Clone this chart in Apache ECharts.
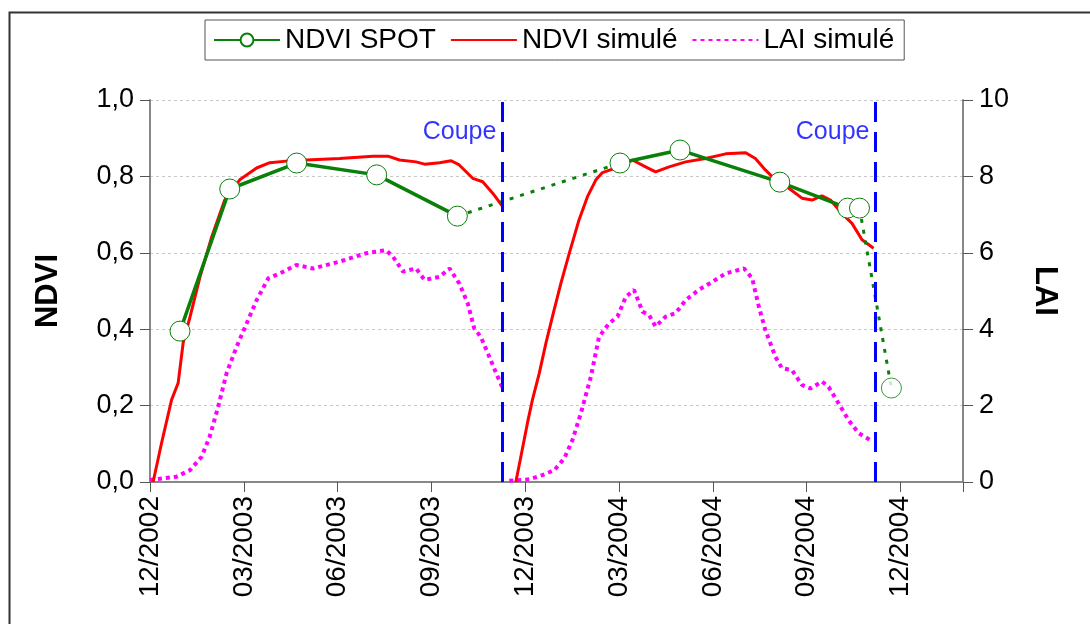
<!DOCTYPE html>
<html>
<head>
<meta charset="utf-8">
<script src="https://cdn.jsdelivr.net/npm/echarts@6/dist/echarts.min.js"></script>
<style>
  html, body { margin: 0; padding: 0; background: #fff; }
  #chart { width: 1090px; height: 624px; }
</style>
</head>
<body>
<div id="chart"></div>
<script>
// x = months since 01/12/2002
var tickLabels = ['12/2002', '03/2003', '06/2003', '09/2003', '12/2003', '03/2004', '06/2004', '09/2004', '12/2004'];

// NDVI SPOT observations [month, ndvi]
var spot1 = [[0.96, 0.395], [2.55, 0.767], [4.69, 0.835], [7.25, 0.804], [9.83, 0.696]];
var spot2 = [[15.03, 0.835], [16.95, 0.869], [20.14, 0.785], [22.31, 0.717], [22.69, 0.717]];
var spotLate = [[23.71, 0.246]];

// NDVI simulé
var ndvi1 = [[0.1, 0], [0.16, 0.005], [0.37, 0.102], [0.69, 0.215], [0.9, 0.259], [1.06, 0.364], [1.28, 0.432],
  [1.6, 0.537], [1.97, 0.641], [2.39, 0.738], [2.87, 0.791], [3.41, 0.822], [3.83, 0.836], [4.36, 0.84],
  [5.0, 0.843], [6.06, 0.847], [7.13, 0.853], [7.61, 0.853], [7.98, 0.843], [8.51, 0.838], [8.78, 0.832],
  [9.26, 0.836], [9.63, 0.841], [9.89, 0.83], [10.32, 0.795], [10.64, 0.786], [10.96, 0.756], [11.28, 0.721]];
var ndvi2 = [[11.7, 0], [11.86, 0.066], [12.07, 0.154], [12.23, 0.215], [12.45, 0.285], [12.66, 0.363],
  [12.87, 0.433], [13.14, 0.52], [13.41, 0.599], [13.72, 0.686], [13.99, 0.747], [14.26, 0.791],
  [14.47, 0.81], [14.79, 0.819], [15.11, 0.83], [15.43, 0.843], [15.85, 0.825], [16.17, 0.812],
  [16.6, 0.825], [17.13, 0.838], [17.77, 0.847], [18.41, 0.859], [19.05, 0.862], [19.36, 0.847],
  [19.68, 0.817], [20.0, 0.791], [20.43, 0.769], [20.85, 0.743], [21.17, 0.738], [21.49, 0.749],
  [21.76, 0.738], [22.13, 0.703], [22.45, 0.677], [22.77, 0.634], [23.14, 0.612]];

// LAI simulé
var lai1 = [[0, 0.05], [0.85, 0.14], [1.28, 0.31], [1.65, 0.66], [1.91, 1.19], [2.18, 1.97], [2.45, 2.85],
  [2.77, 3.54], [3.09, 4.15], [3.41, 4.76], [3.78, 5.33], [4.15, 5.46], [4.68, 5.68], [5.21, 5.59],
  [6.06, 5.77], [6.92, 5.99], [7.55, 6.07], [7.77, 5.9], [8.09, 5.51], [8.51, 5.59], [8.78, 5.29],
  [9.26, 5.37], [9.58, 5.59], [9.89, 5.2], [10.16, 4.68], [10.37, 4.02], [10.58, 3.8], [10.85, 3.28],
  [11.07, 2.85], [11.28, 2.45]];
var lai2 = [[11.49, 0.03], [12.13, 0.07], [12.55, 0.18], [12.93, 0.31], [13.25, 0.62], [13.51, 1.1],
  [13.78, 1.8], [14.1, 2.76], [14.36, 3.8], [14.68, 4.15], [14.95, 4.33], [15.22, 4.85], [15.48, 5.03],
  [15.75, 4.46], [15.96, 4.37], [16.17, 4.07], [16.49, 4.33], [16.81, 4.42], [17.13, 4.76], [17.55, 5.03],
  [17.98, 5.24], [18.41, 5.46], [19.0, 5.59], [19.26, 5.33], [19.47, 4.59], [19.68, 3.98], [20.0, 3.28],
  [20.21, 2.98], [20.53, 2.93], [20.85, 2.54], [21.12, 2.45], [21.49, 2.63], [21.7, 2.49], [22.02, 2.06],
  [22.34, 1.62], [22.66, 1.28], [23.03, 1.1]];

// cuts (Coupe)
var cutMonths = [11.27, 23.2];
var cutLabelNdvi = 0.916;

var FONT = '"Liberation Sans", Arial, sans-serif';
var GREEN = '#0a800a', RED = '#ff0000', PINK = '#ff00ff', BLUE = '#0000ff';

var myChart = echarts.init(document.getElementById('chart'), null, { renderer: 'canvas' });

var spotSymbol = {
  symbol: 'circle', symbolSize: 20,
  itemStyle: { color: '#fff', borderColor: GREEN, borderWidth: 1 }
};

var option = {
  animation: false,
  backgroundColor: '#fff',
  graphic: [{
    type: 'rect', left: 7, top: 10,
    shape: { width: 1100, height: 700 },
    style: { fill: 'none', stroke: '#333', lineWidth: 2 },
    z: -1
  }],
  legend: {
    data: [
      { name: 'NDVI SPOT' },
      { name: 'NDVI simulé', itemStyle: { opacity: 0 } },
      { name: 'LAI simulé', itemStyle: { opacity: 0 } }
    ],
    top: 20, left: 205,
    itemWidth: 66, itemHeight: 16, itemGap: 14,
    borderColor: '#555', borderWidth: 1, padding: [6, 10, 6, 8],
    textStyle: { fontFamily: FONT, fontSize: 28, color: '#000' }
  },
  grid: { left: 150, right: 127, top: 100, bottom: 142 },
  xAxis: {
    type: 'value', min: 0, max: 26, interval: 3,
    axisLine: { lineStyle: { color: '#888', width: 2 } },
    axisTick: { length: 10, lineStyle: { color: '#555' } },
    splitLine: { show: false },
    axisLabel: {
      rotate: 90, margin: 14, fontFamily: FONT, fontSize: 28, color: '#000',
      formatter: function (v) { return v % 3 === 0 ? (tickLabels[v / 3] || '') : ''; }
    }
  },
  yAxis: [{
    type: 'value', min: 0, max: 1, interval: 0.2, position: 'left',
    name: 'NDVI', nameLocation: 'middle', nameRotate: 90, nameGap: 86,
    nameTextStyle: { fontFamily: FONT, fontSize: 31, fontWeight: 'bold', color: '#000' },
    axisLine: { show: true, lineStyle: { color: '#888', width: 2 } },
    axisTick: { show: true, length: 10, lineStyle: { color: '#555' } },
    splitLine: { show: true, lineStyle: { color: '#c8c8c8', type: [3, 3] } },
    axisLabel: {
      margin: 16, fontFamily: FONT, fontSize: 27, color: '#000',
      formatter: function (v) { return v.toFixed(1).replace('.', ','); }
    }
  }, {
    type: 'value', min: 0, max: 10, interval: 2, position: 'right',
    name: 'LAI', nameLocation: 'middle', nameRotate: -90, nameGap: 66,
    nameTextStyle: { fontFamily: FONT, fontSize: 31, fontWeight: 'bold', color: '#000' },
    axisLine: { show: true, lineStyle: { color: '#888', width: 2 } },
    axisTick: { show: true, length: 10, lineStyle: { color: '#555' } },
    splitLine: { show: false },
    axisLabel: { margin: 16, fontFamily: FONT, fontSize: 27, color: '#000' }
  }],
  series: [
    { name: 'LAI simulé', type: 'line', yAxisIndex: 1, data: lai1, showSymbol: false, symbol: 'none',
      lineStyle: { color: PINK, width: 4, type: [4, 4] }, itemStyle: { color: PINK }, z: 2 },
    { name: 'LAI simulé', type: 'line', yAxisIndex: 1, data: lai2, showSymbol: false, symbol: 'none',
      lineStyle: { color: PINK, width: 4, type: [4, 4] }, itemStyle: { color: PINK }, z: 2 },
    { name: 'NDVI simulé', type: 'line', data: ndvi1, showSymbol: false, symbol: 'none',
      lineStyle: { color: RED, width: 3 }, itemStyle: { color: RED }, z: 3 },
    { name: 'NDVI simulé', type: 'line', data: ndvi2, showSymbol: false, symbol: 'none',
      lineStyle: { color: RED, width: 3 }, itemStyle: { color: RED }, z: 3 },
    { name: 'gapA', type: 'line', data: [spot1[spot1.length - 1], spot2[0]], symbol: 'none',
      lineStyle: { color: GREEN, width: 3, type: [4, 7] }, z: 4 },
    { name: 'gapB', type: 'line', data: [spot2[spot2.length - 1], spotLate[0]], symbol: 'none',
      lineStyle: { color: GREEN, width: 3, type: [4, 7] }, z: 4 },
    Object.assign({ name: 'NDVI SPOT', type: 'line', data: spot1,
      lineStyle: { color: GREEN, width: 3.5 }, z: 5 }, spotSymbol),
    Object.assign({ name: 'NDVI SPOT', type: 'line', data: spot2,
      lineStyle: { color: GREEN, width: 3.5 }, z: 5 }, spotSymbol),
    Object.assign({ name: 'NDVI SPOT', type: 'scatter', data: spotLate, z: 5 }, spotSymbol),
    {
      name: 'Coupe', type: 'scatter', symbolSize: 0,
      data: cutMonths.map(function (m) { return [m, cutLabelNdvi]; }),
      label: { show: true, position: 'left', distance: 6, formatter: 'Coupe',
        fontFamily: FONT, fontSize: 25, color: BLUE },
      markLine: {
        symbol: 'none', silent: true,
        label: { show: false },
        lineStyle: { color: BLUE, width: 3, type: [20, 10] },
        data: cutMonths.map(function (m) { return { xAxis: m }; })
      },
      z: 6
    }
  ]
};

myChart.setOption(option);
</script>
</body>
</html>
